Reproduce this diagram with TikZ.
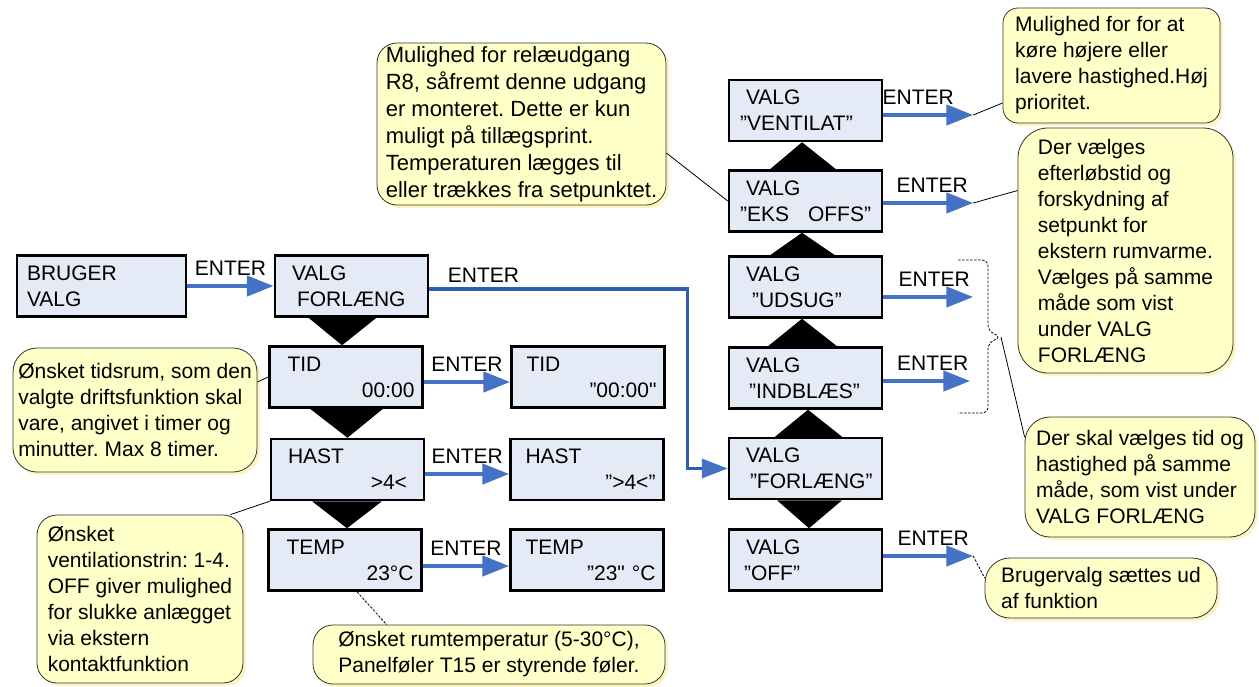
\documentclass[tikz,border=0pt]{standalone}
\usepackage{fontspec}
\setmainfont{Liberation Sans}[Ligatures=TeXOff]
\usepackage{tikz}
\usetikzlibrary{arrows.meta, positioning, shadows}
\definecolor{boxcolor}{RGB}{228,234,246}
\definecolor{notecolor}{RGB}{255,255,200}
\definecolor{entercolor}{RGB}{68,114,196}
\definecolor{linkcolor}{RGB}{50,94,176}
\frenchspacing

\begin{document}
\begin{tikzpicture}[
    x=1pt, y=-1pt,
    every node/.style={font=\fontsize{21}{26}\selectfont},
    box/.style={draw, line width=2.5pt, fill=boxcolor, minimum height=61pt, text width=137pt, inner xsep=8pt, align=left},
    note/.style={draw=black!80, line width=0.8pt, fill=notecolor, rounded corners=#1, align=left, inner sep=0pt, drop shadow={fill=yellow!70!orange, opacity=0.25, shadow xshift=3pt, shadow yshift=-3pt}},
    enter/.style={draw=entercolor, line width=4.5pt, -{Triangle[length=27pt, width=20pt]}},
    link/.style={draw=linkcolor, line width=3.5pt, -{Triangle[length=26pt, width=19pt, color=entercolor]}},
    lbl/.style={midway, above=8pt, inner sep=0pt},
    wedge/.style={fill=black},
    pointer/.style={draw, line width=0.8pt},
    dotpointer/.style={draw, line width=0.8pt, dash pattern=on 2.5pt off 1.5pt}
]
    \useasboundingbox (0,0) rectangle (1259,686);

    % menu boxes
    \node[box, text width=153pt] (bruger) at (101.5,286) {\hspace*{2pt}BRUGER\\\hspace*{2pt}VALG};
    \node[box] (vf) at (351.5,286) {\hspace*{9pt}VALG\\\hspace*{14pt}FORLÆNG};
    \node[box] (tid) at (346,377) {\hspace*{10pt}TID\\\hspace*{\fill}00:00};
    \node[box] (hast) at (347.5,469.5) {\hspace*{9pt}HAST\\\hspace*{\fill}>4<\hspace*{9pt}\mbox{}};
    \node[box] (temp) at (345,560) {\hspace*{10pt}TEMP\\\hspace*{\fill}23°C};
    \node[box] (tid2) at (588,377) {\hspace*{7pt}TID\\\hspace*{\fill}”00:00"};
    \node[box] (hast2) at (587,469.5) {\hspace*{7pt}HAST\\\hspace*{\fill}”>4<”};
    \node[box] (temp2) at (587,560) {\hspace*{7pt}TEMP\\\hspace*{\fill}”23" °C};

    \node[box] (vent) at (805.5,110.5) {\hspace*{9pt}VALG\\\hspace*{3pt}”VENTILAT”};
    \node[box] (eks) at (805.5,201) {\hspace*{9pt}VALG\\\hspace*{3pt}”EKS\hspace{19pt}OFFS”};
    \node[box] (udsug) at (805.5,287) {\hspace*{9pt}VALG\\\hspace*{15pt}”UDSUG”};
    \node[box] (indb) at (805.5,378) {\hspace*{9pt}VALG\\\hspace*{12pt}”INDBLÆS”};
    \node[box] (fq) at (805.5,468.5) {\hspace*{9pt}VALG\\\hspace*{13pt}”FORLÆNG”};
    \node[box] (off) at (805.5,560) {\hspace*{9pt}VALG\\\hspace*{7pt}”OFF”};

    % wedges between the boxes
    \fill[wedge] ([xshift=-43pt]vf.south) -- ([xshift=25pt]vf.south) -- ([xshift=-4pt]tid.north) -- cycle;
    \fill[wedge] ([xshift=-36pt]tid.south) -- ([xshift=37pt]tid.south) -- (hast.north) -- cycle;
    \fill[wedge] ([xshift=-35.5pt]hast.south) -- ([xshift=34.5pt]hast.south) -- ([xshift=2pt]temp.north) -- cycle;
    \fill[wedge] ([xshift=-35.5pt]eks.north) -- ([xshift=30.5pt]eks.north) -- ([xshift=-3.5pt]vent.south) -- cycle;
    \fill[wedge] ([xshift=-35.5pt]udsug.north) -- ([xshift=29.5pt]udsug.north) -- ([xshift=-3.5pt]eks.south) -- cycle;
    \fill[wedge] ([xshift=-37.5pt]indb.north) -- ([xshift=31.5pt]indb.north) -- ([xshift=-3.5pt]udsug.south) -- cycle;
    \fill[wedge] ([xshift=-30.5pt]fq.north) -- ([xshift=36.5pt]fq.north) -- ([xshift=2.5pt]indb.south) -- cycle;
    \fill[wedge] ([xshift=-28.5pt]fq.south) -- ([xshift=36.5pt]fq.south) -- ([xshift=3.5pt]off.north) -- cycle;

    % ENTER arrows
    \coordinate (ventend) at ([xshift=90pt, yshift=-4.5pt]vent.east);
    \coordinate (eksend) at ([xshift=90pt, yshift=-2pt]eks.east);
    \coordinate (udsugend) at ([xshift=90pt, yshift=-10pt]udsug.east);
    \coordinate (indbend) at ([xshift=87pt, yshift=-3pt]indb.east);
    \coordinate (offend) at ([xshift=90pt, yshift=4pt]off.east);

    \draw[enter] (bruger.east) -- node[lbl] {ENTER} (vf.west);
    \draw[enter] ([yshift=-5pt]tid.east) -- node[lbl] {ENTER} ([yshift=-5pt]tid2.west);
    \draw[enter] ([yshift=-4.5pt]hast.east) -- node[lbl] {ENTER} ([yshift=-4.5pt]hast2.west);
    \draw[enter] ([yshift=-6pt]temp.east) -- node[lbl] {ENTER} ([yshift=-6pt]temp2.west);
    \draw[enter] ([yshift=-4.5pt]vent.east) -- node[lbl, xshift=-10pt] {ENTER} (ventend);
    \draw[enter] ([yshift=-2pt]eks.east) -- node[lbl, xshift=4pt] {ENTER} (eksend);
    \draw[enter] ([yshift=-10pt]udsug.east) -- node[lbl, xshift=6pt] {ENTER} (udsugend);
    \draw[enter] ([yshift=-3pt]indb.east) -- node[lbl, xshift=6pt] {ENTER} (indbend);
    \draw[enter] ([yshift=4pt]off.east) -- node[lbl, xshift=5pt] {ENTER} (offend);

    \draw[link] ([yshift=-3pt]vf.east) -- node[pos=0.21, above=5pt, inner sep=0pt] {ENTER} ++(258,0) |- (fq.west);

    % notes
    \node[note=20pt, font=\fontsize{22}{27}\selectfont, minimum width=289pt, minimum height=162pt] (relay) at (521.5,124)
        {Mulighed for relæudgang\\R8, såfremt denne udgang\\er monteret. Dette er kun\\muligt på tillægsprint.\\Temperaturen lægges til\\eller trækkes fra setpunktet.};
    \node[note=15pt, minimum width=217pt, minimum height=115pt] (speed) at (1111.5,65.5)
        {Mulighed for for at\\køre højere eller\\lavere hastighed.Høj\\prioritet.};
    \node[note=30pt, minimum width=215pt, minimum height=245pt] (offset) at (1125.5,250.5)
        {Der vælges\\efterløbstid og\\forskydning af\\setpunkt for\\ekstern rumvarme.\\Vælges på samme\\måde som vist\\under VALG\\FORLÆNG};
    \node[note=25pt, minimum width=230pt, minimum height=120pt] (same) at (1140,477)
        {Der skal vælges tid og\\hastighed på samme\\måde, som vist under\\VALG FORLÆNG};
    \node[note=25pt, minimum width=232pt, minimum height=60pt] (offnote) at (1101,588)
        {Brugervalg sættes ud\\af funktion};
    \node[note=24pt, minimum width=244pt, minimum height=124pt] (period) at (135,410)
        {Ønsket tidsrum, som den\\valgte driftsfunktion skal\\vare, angivet i timer og\\minutter. Max 8 timer.};
    \node[note=20pt, minimum width=206pt, minimum height=168pt] (level) at (140,599)
        {Ønsket\\ventilationstrin: 1-4.\\OFF giver mulighed\\for slukke anlægget\\via ekstern\\kontaktfunktion};
    \node[note=20pt, minimum width=352pt, minimum height=59pt] (setp) at (489,654.5)
        {Ønsket rumtemperatur (5-30°C),\\Panelføler T15 er styrende føler.};

    % pointers
    \draw[pointer] ([yshift=-29pt]relay.east) -- (eks.west);
    \draw[pointer] (ventend) -- ([yshift=-37.5pt]speed.west);
    \draw[pointer] (eksend) -- ([yshift=60pt]offset.west);
    \draw[dotpointer] (offend) -- ([yshift=10pt]offnote.west);
    \draw[pointer] ([yshift=28pt]period.east) -- (tid.west);
    \draw[pointer] ([xshift=-13pt]level.north east) -- (hast.south west);
    \draw[dotpointer] ([xshift=12pt]temp.south) -- ([xshift=74pt]setp.north west);

    % brace
    \coordinate (br) at (1001,337);
    \draw[dotpointer, rounded corners=6pt] (958,260) -- (988,260) -- (988,331) -- (br) -- (988,343) -- (988,413) -- (958,413);
    \draw[pointer] (br) -- ([yshift=40pt]same.west);
\end{tikzpicture}
\end{document}
